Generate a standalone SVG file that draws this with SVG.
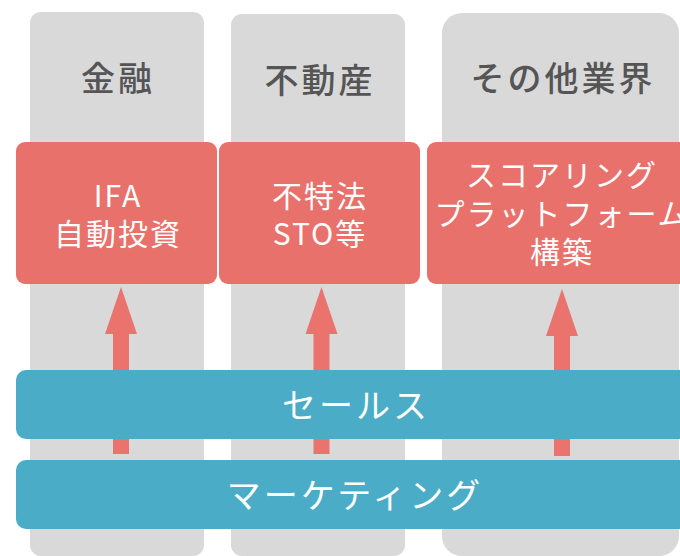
<svg xmlns="http://www.w3.org/2000/svg" width="680" height="556" viewBox="0 0 680 556">
<style>
.col{fill:#D9D9D9}
.red{fill:#E8716C}
.blue{fill:#4AACC6}
.arr{fill:#EA736D}
.hd{font-family:"Noto Sans CJK JP","Noto Sans",sans-serif;font-size:34px;font-weight:500;fill:#555555;text-anchor:middle;dominant-baseline:central;letter-spacing:3px}
.wt{font-family:"Noto Sans CJK JP","Noto Sans",sans-serif;font-size:30px;fill:#FFFFFF;text-anchor:middle;dominant-baseline:central;letter-spacing:2px}
.bt{font-family:"Noto Sans CJK JP","Noto Sans",sans-serif;font-size:34px;fill:#FFFFFF;text-anchor:middle;dominant-baseline:central;letter-spacing:3px}
</style>
<rect width="680" height="556" fill="#FFFFFF"/>
<g id="col-finance"><rect class="col" x="30" y="12" width="174" height="544" rx="11"/><text class="hd" x="118" y="76">金融</text></g>
<g id="col-realestate"><rect class="col" x="231" y="14" width="174" height="542" rx="11"/><text class="hd" x="320" y="78">不動産</text></g>
<g id="col-other"><rect class="col" x="442" y="13" width="237" height="543" rx="20"/><text class="hd" x="563" y="76">その他業界</text></g>
<g id="box-ifa"><rect class="red" x="16" y="142" width="201" height="142" rx="9"/><text class="wt" x="118" y="194">IFA</text><text class="wt" x="118" y="232">自動投資</text></g>
<g id="box-sto"><rect class="red" x="219" y="142" width="201" height="142" rx="9"/><text class="wt" x="320" y="194">不特法</text><text class="wt" x="320" y="232">STO等</text></g>
<g id="box-scoring"><rect class="red" x="427" y="142" width="270" height="142" rx="9"/><text class="wt" x="562" y="173">スコアリング</text><text class="wt" x="562" y="212">プラットフォーム</text><text class="wt" x="562" y="250">構築</text></g>
<g id="connectors">
<polygon class="arr" points="121,287 137,334 129,334 129,454 113,454 113,334 105,334"/>
<polygon class="arr" points="321.5,287 337.5,334 329.5,334 329.5,454 313.5,454 313.5,334 305.5,334"/>
<polygon class="arr" points="562,289 578,336 570,336 570,456 554,456 554,336 546,336"/>
</g>
<g id="bar-sales"><rect class="blue" x="16" y="370" width="680" height="69" rx="10"/><text class="bt" x="356" y="403">セールス</text></g>
<g id="bar-marketing"><rect class="blue" x="16" y="460" width="680" height="69" rx="10"/><text class="bt" x="355" y="493">マーケティング</text></g>
</svg>
